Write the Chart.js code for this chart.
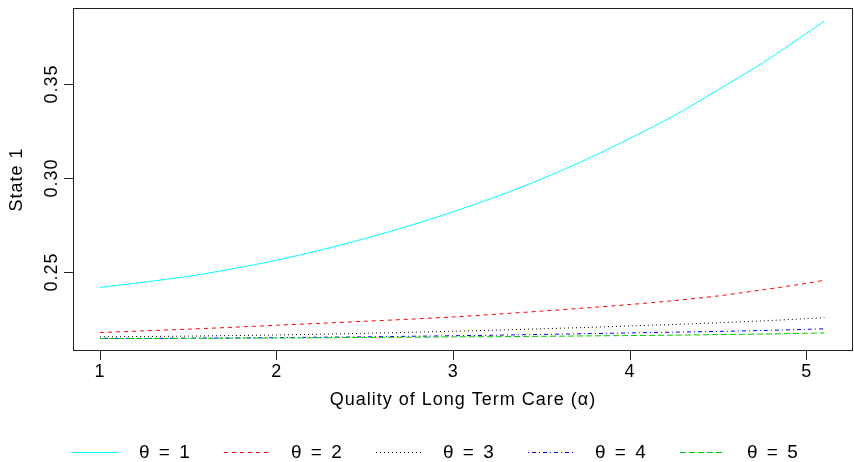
<!DOCTYPE html>
<html>
<head>
<meta charset="utf-8">
<script src="https://cdn.jsdelivr.net/npm/chart.js@4.4.1/dist/chart.umd.min.js"></script>
<style>
  html, body { margin: 0; padding: 0; background: #fff; }
  #chart { display: block; }
</style>
</head>
<body>
<canvas id="chart" width="854" height="462"></canvas>
<script>
// quality of long term care (alpha), x values
const alpha = [1, 1.25, 1.5, 1.75, 2, 2.25, 2.5, 2.75, 3, 3.25, 3.5, 3.75, 4, 4.25, 4.5, 4.75, 5, 5.1];

// State 1 probability for each theta
const theta1 = [0.2418, 0.2446, 0.2477, 0.2517, 0.2563, 0.2617, 0.2678, 0.2746, 0.2821, 0.2903, 0.2995, 0.3098, 0.3211, 0.3332, 0.3470, 0.3612, 0.3770, 0.3835];
const theta2 = [0.2178, 0.2187, 0.2196, 0.2206, 0.2217, 0.2227, 0.2238, 0.2249, 0.2261, 0.2276, 0.2292, 0.2309, 0.2327, 0.2348, 0.2373, 0.2405, 0.2440, 0.2456];
const theta3 = [0.2155, 0.2157, 0.2159, 0.2162, 0.2165, 0.2169, 0.2174, 0.2179, 0.2185, 0.2191, 0.2198, 0.2205, 0.2213, 0.2221, 0.2230, 0.2240, 0.2252, 0.2257];
const theta4 = [0.2147, 0.2147, 0.2148, 0.2149, 0.2151, 0.2153, 0.2155, 0.2158, 0.2161, 0.2164, 0.2168, 0.2172, 0.2176, 0.2180, 0.2184, 0.2189, 0.2195, 0.2198];
const theta5 = [0.2146, 0.2146, 0.2147, 0.2148, 0.2149, 0.2150, 0.2152, 0.2153, 0.2155, 0.2156, 0.2158, 0.2160, 0.2162, 0.2164, 0.2167, 0.2170, 0.2174, 0.2176];

const seriesLabels = ['θ = 1', 'θ = 2', 'θ = 3', 'θ = 4', 'θ = 5'];
const xTicks = [1, 2, 3, 4, 5];
const yTicks = [0.25, 0.30, 0.35];
const yTickLabels = ['0.25', '0.30', '0.35'];

const FONT = 'Liberation Sans, Arial, Helvetica, sans-serif';

const series = [theta1, theta2, theta3, theta4, theta5];
const colors = ['#00FFFF', '#FF0000', '#000000', '#0000FF', '#00CD00'];
const dashes = [[], [4, 4], [1, 3], [1, 3, 4, 3], [6, 3]];

const datasets = series.map((s, i) => ({
  label: seriesLabels[i],
  data: alpha.map((a, j) => ({ x: a, y: s[j] })),
  borderColor: colors[i],
  borderDash: dashes[i],
  borderWidth: 1,
  pointRadius: 0,
  fill: false,
  tension: 0.3,
  order: 5 - i
}));

// R style box, rotated y tick labels and bottom legend
const rStyle = {
  id: 'rStyle',
  beforeDraw(chart) {
    chart.ctx.letterSpacing = '1px';
  },
  afterDraw(chart) {
    const { ctx, chartArea: a } = chart;
    const y = chart.scales.y;
    ctx.save();
    ctx.strokeStyle = '#222';
    ctx.lineWidth = 1;
    ctx.setLineDash([]);
    ctx.strokeRect(a.left + 0.5, a.top + 0.5, a.right - a.left - 1, a.bottom - a.top - 1);

    ctx.fillStyle = '#000';
    ctx.font = '18px ' + FONT;
    ctx.textAlign = 'center';
    ctx.textBaseline = 'alphabetic';
    yTicks.forEach((v, i) => {
      ctx.save();
      ctx.translate(57, y.getPixelForValue(v));
      ctx.rotate(-Math.PI / 2);
      ctx.fillText(yTickLabels[i], 0, 0);
      ctx.restore();
    });

    // legend
    const ly = 452.5;
    ctx.font = '19px ' + FONT;
    ctx.textAlign = 'left';
    ctx.textBaseline = 'middle';
    ctx.letterSpacing = '2px';
    chart.data.datasets.forEach((ds, i) => {
      const x0 = 72 + i * 152;
      ctx.strokeStyle = ds.borderColor;
      ctx.setLineDash(ds.borderDash);
      ctx.beginPath();
      ctx.moveTo(x0, ly);
      ctx.lineTo(x0 + 45, ly);
      ctx.stroke();
      ctx.fillText(ds.label, x0 + 67, ly);
    });
    ctx.restore();
  }
};

new Chart(document.getElementById('chart'), {
  type: 'line',
  data: { datasets: datasets },
  plugins: [rStyle],
  options: {
    responsive: false,
    animation: false,
    devicePixelRatio: 1,
    layout: { padding: { left: 0, top: 8, right: 1, bottom: 0 } },
    plugins: {
      legend: { display: false },
      tooltip: { enabled: false }
    },
    scales: {
      x: {
        type: 'linear',
        min: 0.847,
        max: 5.262,
        afterBuildTicks: (scale) => { scale.ticks = xTicks.map(v => ({ value: v })); },
        afterFit: (scale) => { scale.height = 111; },
        border: { display: false },
        grid: { drawOnChartArea: false, drawTicks: true, tickLength: 9, color: '#222' },
        ticks: {
          color: '#000',
          padding: 1,
          maxRotation: 0,
          font: { family: FONT, size: 18 },
          callback: (v) => String(v)
        },
        title: {
          display: true,
          text: 'Quality of Long Term Care (α)',
          color: '#000',
          font: { family: FONT, size: 18 },
          padding: { top: 0, bottom: 51 }
        }
      },
      y: {
        type: 'linear',
        min: 0.20798,
        max: 0.39043,
        afterBuildTicks: (scale) => { scale.ticks = yTicks.map(v => ({ value: v })); },
        afterFit: (scale) => { scale.width = 73; },
        border: { display: false },
        grid: { drawOnChartArea: false, drawTicks: true, tickLength: 9, color: '#222' },
        ticks: { display: false },
        title: {
          display: true,
          text: 'State 1',
          color: '#000',
          font: { family: FONT, size: 18 },
          padding: { top: 6, bottom: 0 }
        }
      }
    }
  }
});
</script>
</body>
</html>
